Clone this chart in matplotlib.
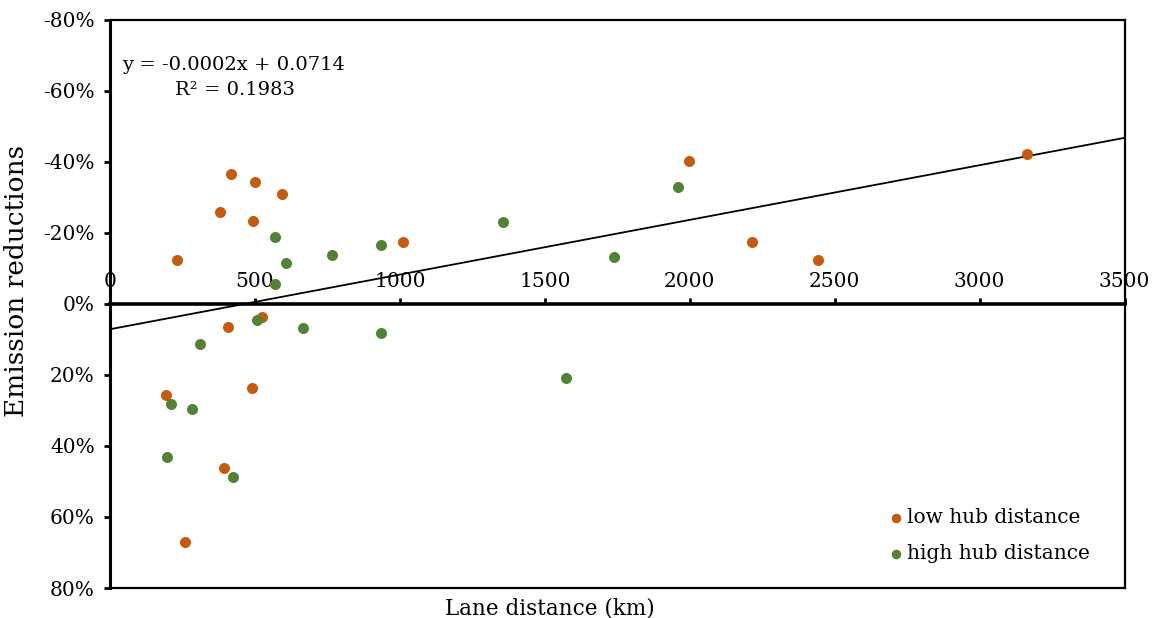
import numpy as np
import matplotlib.pyplot as plt
from matplotlib.ticker import FuncFormatter

plt.rcParams['font.family'] = ['DejaVu Serif']

# lane distance (km) and emission reduction (fraction) per lane
low_km = [231, 416, 381, 500, 492, 592, 1012, 1997, 2216, 2443, 3165,
          407, 523, 195, 489, 395, 258]
low_red = [-0.124, -0.367, -0.259, -0.343, -0.233, -0.310, -0.175, -0.401, -0.175, -0.124, -0.423,
           0.066, 0.036, 0.257, 0.237, 0.461, 0.669]

high_km = [570, 609, 570, 767, 935, 1357, 1738, 1961,
           506, 665, 312, 934, 1574, 212, 282, 198, 423]
high_red = [-0.189, -0.116, -0.057, -0.138, -0.165, -0.232, -0.133, -0.330,
            0.046, 0.067, 0.112, 0.082, 0.209, 0.282, 0.296, 0.430, 0.488]

# linear trendline (slope shown rounded to 4 decimals)
slope = -0.000154
intercept = 0.0714
r2 = 0.1983

x_ticks = [0, 500, 1000, 1500, 2000, 2500, 3000, 3500]
y_ticks = [-0.8, -0.6, -0.4, -0.2, 0.0, 0.2, 0.4, 0.6, 0.8]

orange = '#C55A11'
green = '#548235'

fig = plt.figure(figsize=(11.57, 6.18), dpi=100)
ax = fig.add_axes([0.095, 0.0485, 0.877, 0.9195])

ax.scatter(low_km, low_red, s=48, color=orange, label='low hub distance', zorder=3)
ax.scatter(high_km, high_red, s=48, color=green, label='high hub distance', zorder=3)

xs = np.array([0, 3500])
ax.plot(xs, slope * xs + intercept, color='black', lw=1.3, zorder=2)

ax.set_xlim(0, 3500)
ax.set_ylim(0.8, -0.8)
ax.set_xticks(x_ticks)
ax.set_yticks(y_ticks)
ax.yaxis.set_major_formatter(FuncFormatter(lambda v, p: f"{round(v * 100):d}%"))

# x axis runs along the zero line, labels above it
ax.spines['top'].set_position(('data', 0))
ax.spines['top'].set_linewidth(2.6)
ax.spines['top'].set_zorder(2.5)
ax.xaxis.set_ticks_position('top')
ax.tick_params(axis='x', direction='out', length=4, width=2, pad=5, labelsize=14.5)
ax.tick_params(axis='y', direction='out', length=4, width=2, pad=7, labelsize=14.5)
ax.spines['left'].set_linewidth(2.2)
ax.spines['right'].set_linewidth(1.6)
ax.spines['bottom'].set_linewidth(1.6)
ax.plot([0, 1], [1, 1], transform=ax.transAxes, color='black', lw=1.6, clip_on=False)

ax.set_xlabel('Lane distance (km)', fontsize=15.5)
ax.xaxis.set_label_coords(0.434, -0.016)
ax.set_ylabel('Emission reductions', fontsize=19)
ax.yaxis.set_label_coords(-0.08, 0.54)

ax.text(0.012, 0.92, f'y = {slope:.4f}x + {intercept:.4f}', transform=ax.transAxes,
        fontsize=14, ha='left', va='center')
ax.text(0.064, 0.876, f'R² = {r2:.4f}', transform=ax.transAxes,
        fontsize=14, ha='left', va='center')

ax.legend(loc='lower right', bbox_to_anchor=(0.984, 0.012), frameon=False, fontsize=14.5,
          handletextpad=0.05, markerscale=0.85, handlelength=1.0, labelspacing=0.85)

fig.savefig('out.png', dpi=100)
